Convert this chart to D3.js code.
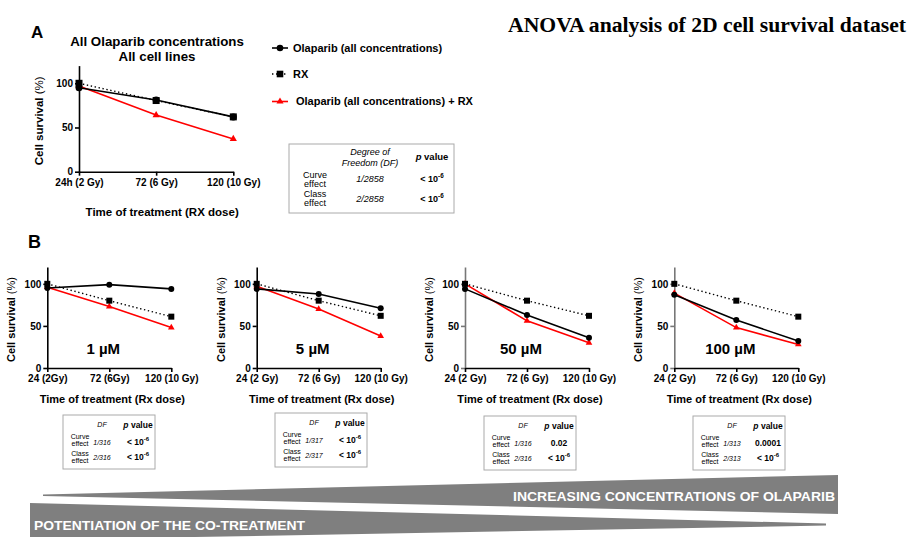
<!DOCTYPE html>
<html>
<head>
<meta charset="utf-8">
<script src="https://cdn.jsdelivr.net/npm/d3@7"></script>
<style>
  body { margin: 0; background: #fff; }
  svg { font-family: "Liberation Sans", Arial, sans-serif; }
  .axis path, .axis line { stroke: #000; stroke-width: 1.6; }
  .axis text { font-weight: bold; font-size: 10px; fill: #000; }
</style>
</head>
<body>
<script>
// ---- data ----
var ticksA = ["24h (2 Gy)", "72 (6 Gy)", "120 (10 Gy)"];
var olaA = [95, 81, 62];
var rxA = [100, 80.5, 62];
var comboA = [97, 64, 37];

var concLabels = ["1 µM", "5 µM", "50 µM", "100 µM"];
var ticksB = [
  ["24 (2Gy)", "72 (6Gy)", "120 (10 Gy)"],
  ["24 (2 Gy)", "72 (6 Gy)", "120 (10 Gy)"],
  ["24 (2 Gy)", "72 (6 Gy)", "120 (10 Gy)"],
  ["24 (2 Gy)", "72 (6 Gy)", "120 (10 Gy)"]
];
var olaB = [[95, 99, 94], [94, 88, 71], [94, 63, 36], [87, 57, 32]];
var rxB = [[100, 80, 61], [100, 80, 62], [100, 80, 62], [100, 80, 61]];
var comboB = [[96, 73, 48], [97, 70, 38], [100, 56, 30], [89, 48, 28]];

var legendLabels = ["Olaparib (all concentrations)", "RX", "Olaparib (all concentrations) + RX"];

var dfA = ["1/2858", "2/2858"];
var pA = ["<10-6", "<10-6"];
var dfB = [["1/316", "2/316"], ["1/317", "2/317"], ["1/316", "2/316"], ["1/313", "2/313"]];
var pB = [["<10-6", "<10-6"], ["<10-6", "<10-6"], ["0.02", "<10-6"], ["0.0001", "<10-6"]];

var width = 912, height = 537;

var svg = d3.select("body").append("svg")
    .attr("width", width)
    .attr("height", height);

// title
svg.append("text")
    .attr("x", 508).attr("y", 32)
    .attr("textLength", 398).attr("lengthAdjust", "spacingAndGlyphs")
    .style("font-family", "'Liberation Serif', 'Times New Roman', serif")
    .style("font-weight", "bold")
    .style("font-size", "20.5px")
    .text("ANOVA analysis of 2D cell survival dataset");

// panel letters
svg.append("text").attr("x", 31).attr("y", 38)
    .style("font-weight", "bold").style("font-size", "17px").text("A");
svg.append("text").attr("x", 28).attr("y", 248)
    .style("font-weight", "bold").style("font-size", "18px").text("B");

// draws one survival plot
function drawPlot(opt) {
    var g = svg.append("g").attr("transform", "translate(" + opt.left + "," + opt.top + ")");

    var x = d3.scalePoint().domain(opt.ticks).range([0, opt.w]).padding(0);
    var y = d3.scaleLinear().domain([0, 120]).range([opt.h, 0]);

    var yAx = g.append("g").attr("class", "axis")
        .call(d3.axisLeft(y).tickValues([0, 50, 100]).tickSize(4).tickSizeOuter(0));
    yAx.selectAll("text").attr("x", -6);
    if (opt.axisColor) yAx.selectAll("path, line").style("stroke", opt.axisColor);

    var xAx = g.append("g").attr("class", "axis")
        .attr("transform", "translate(0," + opt.h + ")")
        .call(d3.axisBottom(x).tickSize(4).tickSizeOuter(0));
    xAx.selectAll("text").attr("y", 7);

    var line = d3.line()
        .x(function(d, i) { return x(opt.ticks[i]); })
        .y(function(d) { return y(d); });

    // red combo
    g.append("path").attr("d", line(opt.combo))
        .attr("fill", "none").attr("stroke", "#ff0000").attr("stroke-width", 1.6);
    // RX dotted
    g.append("path").attr("d", line(opt.rx))
        .attr("fill", "none").attr("stroke", "#000").attr("stroke-width", 1.4)
        .attr("stroke-dasharray", "1.4,2.6");
    // olaparib solid
    g.append("path").attr("d", line(opt.ola))
        .attr("fill", "none").attr("stroke", "#000").attr("stroke-width", 1.6);

    var tri = d3.symbol().type(d3.symbolTriangle).size(opt.ms * 3.2);
    g.selectAll(".tri").data(opt.combo).enter().append("path")
        .attr("d", tri)
        .attr("transform", function(d, i) { return "translate(" + x(opt.ticks[i]) + "," + y(d) + ")"; })
        .attr("fill", "#ff0000");
    g.selectAll(".sq").data(opt.rx).enter().append("rect")
        .attr("x", function(d, i) { return x(opt.ticks[i]) - opt.ms / 2; })
        .attr("y", function(d) { return y(d) - opt.ms / 2; })
        .attr("width", opt.ms).attr("height", opt.ms)
        .attr("fill", "#000");
    g.selectAll(".ci").data(opt.ola).enter().append("circle")
        .attr("cx", function(d, i) { return x(opt.ticks[i]); })
        .attr("cy", function(d) { return y(d); })
        .attr("r", opt.ms * 0.5)
        .attr("fill", "#000");

    // axis titles
    var yl = g.append("text")
        .attr("transform", "translate(" + opt.ylx + "," + (opt.h * 0.52) + ") rotate(-90)")
        .attr("text-anchor", "middle")
        .style("font-weight", "bold").style("font-size", opt.titleSize + "px");
    yl.append("tspan").text("Cell survival ");
    yl.append("tspan").style("font-weight", "normal").text("(%)");

    g.append("text")
        .attr("x", opt.w / 2 + opt.xtDx).attr("y", opt.h + opt.xtDy)
        .attr("text-anchor", "middle")
        .style("font-weight", "bold").style("font-size", opt.titleSize + "px")
        .text(opt.xtitle);

    if (opt.conc) {
        g.append("text")
            .attr("x", opt.w / 2 - 6).attr("y", y(17))
            .attr("text-anchor", "middle")
            .style("font-weight", "bold").style("font-size", "15px")
            .text(opt.conc);
    }
    return g;
}

// panel A
drawPlot({left: 79, top: 65.6, w: 154.3, h: 106.1, ticks: ticksA,
    ola: olaA, rx: rxA, combo: comboA, ms: 7, ylx: -36, titleSize: 11.5,
    xtitle: "Time of treatment (RX dose)", xtDx: 6, xtDy: 44});

svg.append("text").attr("x", 157).attr("y", 45.5)
    .attr("text-anchor", "middle").style("font-weight", "bold").style("font-size", "13.3px")
    .text("All Olaparib concentrations");
svg.append("text").attr("x", 157).attr("y", 61)
    .attr("text-anchor", "middle").style("font-weight", "bold").style("font-size", "13.3px")
    .text("All cell lines");

// legend
var leg = svg.append("g");
var legY = [48, 74, 101.5];
legendLabels.forEach(function(lab, i) {
    var row = leg.append("g").attr("transform", "translate(280," + legY[i] + ")");
    var col = i == 2 ? "#ff0000" : "#000";
    row.append("line").attr("x1", -8).attr("x2", 8)
        .attr("stroke", col).attr("stroke-width", 1.6)
        .attr("stroke-dasharray", i == 1 ? "1.4,2.6" : null);
    if (i == 0) row.append("circle").attr("r", 3.3).attr("fill", "#000");
    if (i == 1) row.append("rect").attr("x", -3.3).attr("y", -3.3).attr("width", 6.6).attr("height", 6.6).attr("fill", "#000");
    if (i == 2) row.append("path").attr("d", d3.symbol().type(d3.symbolTriangle).size(22)).attr("fill", "#ff0000");
    row.append("text").attr("x", i == 2 ? 16 : 13).attr("dy", "0.35em")
        .style("font-weight", "bold").style("font-size", "11px").text(lab);
});

// p value text with superscript
function pText(g, x, y, val, size) {
    var t = g.append("text").attr("x", x).attr("y", y)
        .attr("text-anchor", "middle")
        .style("font-weight", "bold").style("font-size", size + "px");
    if (val.indexOf("<10") == 0) {
        t.append("tspan").text("< 10");
        t.append("tspan").attr("dy", -size * 0.45).style("font-size", (size * 0.7) + "px").text("-6");
    } else {
        t.text(val);
    }
}

// table A
var tA = svg.append("g").attr("transform", "translate(289,144)");
tA.append("rect").attr("width", 165).attr("height", 69)
    .attr("fill", "#fff").attr("stroke", "#aaa").attr("stroke-width", 1);
var itA = [["Degree of", 81, 11], ["Freedom (DF)", 81, 22]];
itA.forEach(function(d) {
    tA.append("text").attr("x", d[1]).attr("y", d[2]).attr("text-anchor", "middle")
        .style("font-style", "italic").style("font-size", "9px").text(d[0]);
});
tA.append("text").attr("x", 143).attr("y", 16).attr("text-anchor", "middle")
    .style("font-size", "9.5px").style("font-weight", "bold")
    .html("<tspan style='font-style:italic'>p</tspan> value");
var rowLabA = [["Curve", 34], ["effect", 43], ["Class", 53], ["effect", 62]];
rowLabA.forEach(function(d) {
    tA.append("text").attr("x", 26).attr("y", d[1]).attr("text-anchor", "middle")
        .style("font-size", "9px").text(d[0]);
});
dfA.forEach(function(d, i) {
    tA.append("text").attr("x", 81).attr("y", 38 + i * 20).attr("text-anchor", "middle")
        .style("font-style", "italic").style("font-size", "9px").text(d);
    pText(tA, 143, 38 + i * 20, pA[i], 9);
});

// panel B
var bLeft = [47.3, 256.7, 465, 674.3];
var tabPos = [[63, 415], [275, 413], [484, 416], [693, 416]];
concLabels.forEach(function(c, k) {
    drawPlot({left: bLeft[k], top: 267, w: 124, h: 101, ticks: ticksB[k],
        ola: olaB[k], rx: rxB[k], combo: comboB[k], ms: 6, ylx: -32, titleSize: 11,
        xtitle: "Time of treatment (Rx dose)", xtDx: 3, xtDy: 35, conc: c,
        axisColor: k >= 2 ? "#777" : null});

    var t = svg.append("g").attr("transform", "translate(" + tabPos[k][0] + "," + tabPos[k][1] + ")");
    t.append("rect").attr("width", 92).attr("height", 54)
        .attr("fill", "#fff").attr("stroke", "#aaa").attr("stroke-width", 1);
    t.append("text").attr("x", 39).attr("y", 12).attr("text-anchor", "middle")
        .style("font-style", "italic").style("font-size", "7px").text("DF");
    t.append("text").attr("x", 75).attr("y", 13).attr("text-anchor", "middle")
        .style("font-size", "8.5px").style("font-weight", "bold")
        .html("<tspan style='font-style:italic'>p</tspan> value");
    [["Curve", 24], ["effect", 31], ["Class", 40.5], ["effect", 47.5]].forEach(function(d) {
        t.append("text").attr("x", 17).attr("y", d[1]).attr("text-anchor", "middle")
            .style("font-size", "7px").text(d[0]);
    });
    dfB[k].forEach(function(d, i) {
        t.append("text").attr("x", 39).attr("y", 29.5 + i * 15.5).attr("text-anchor", "middle")
            .style("font-style", "italic").style("font-size", "7px").text(d);
        pText(t, 75, 29.5 + i * 15.5, pB[k][i], 8.5);
    });
});

// bottom wedges
var wedge1 = [[43, 494.5], [838, 475], [838, 514], [43, 496]];
var wedge2 = [[30, 503], [826, 523.5], [826, 525.5], [30, 540]];
svg.append("path").attr("d", d3.line()(wedge1) + "Z").attr("fill", "#7f7f7f");
svg.append("path").attr("d", d3.line()(wedge2) + "Z").attr("fill", "#7f7f7f");

svg.append("text").attr("x", 513).attr("y", 501)
    .attr("textLength", 322).attr("lengthAdjust", "spacingAndGlyphs")
    .attr("fill", "#fff")
    .style("font-size", "13px").style("font-weight", "bold")
    .text("INCREASING CONCENTRATIONS OF OLAPARIB");
svg.append("text").attr("x", 34).attr("y", 529.5)
    .attr("textLength", 271).attr("lengthAdjust", "spacingAndGlyphs")
    .attr("fill", "#fff")
    .style("font-size", "13px").style("font-weight", "bold")
    .text("POTENTIATION OF THE CO-TREATMENT");
</script>
</body>
</html>
